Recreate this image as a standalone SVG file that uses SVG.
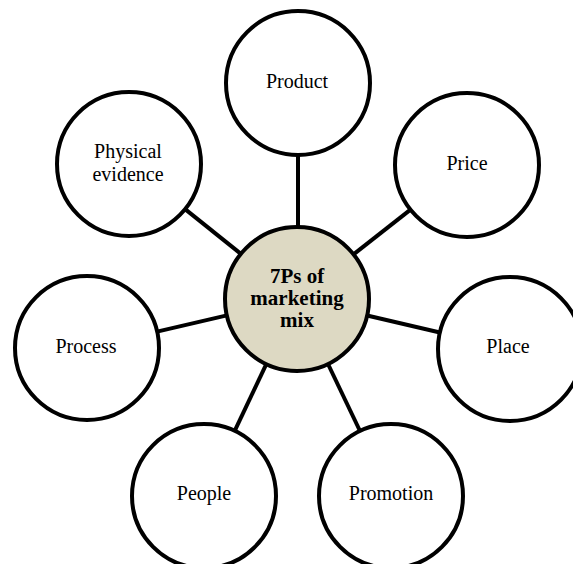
<svg xmlns="http://www.w3.org/2000/svg" width="573" height="564" viewBox="0 0 573 564">
<style>
.n{fill:#fff;stroke:#000;stroke-width:4}
.c{fill:#ddd9c3;stroke:#000;stroke-width:4}
.e{stroke:#000;stroke-width:4;fill:none}
text{font-family:"Liberation Serif","Times New Roman",serif;font-size:20px;fill:#000;text-anchor:middle}
.b{font-weight:bold;font-size:21px}
</style>
<rect width="573" height="564" fill="#fff"/>
<g id="connectors">
<line class="e" x1="298" y1="227" x2="298" y2="155"/>
<line class="e" x1="353.5" y1="254.4" x2="410.5" y2="209.6"/>
<line class="e" x1="367.1" y1="315.5" x2="439.9" y2="332.5"/>
<line class="e" x1="328" y1="364" x2="360" y2="431"/>
<line class="e" x1="266.3" y1="364.1" x2="234.7" y2="430.9"/>
<line class="e" x1="226.9" y1="315.4" x2="157.1" y2="331.6"/>
<line class="e" x1="240.9" y1="253.9" x2="185.1" y2="209.1"/>
</g>
<g id="center">
<circle class="c" cx="297" cy="299" r="72"/>
<text class="b" x="297" y="283">7Ps of</text>
<text class="b" x="297" y="305">marketing</text>
<text class="b" x="297" y="327">mix</text>
</g>
<g id="product">
<circle class="n" cx="298" cy="83" r="72"/>
<text x="297" y="88">Product</text>
</g>
<g id="price">
<circle class="n" cx="467" cy="165" r="72"/>
<text x="467" y="170">Price</text>
</g>
<g id="place">
<circle class="n" cx="510" cy="349" r="72"/>
<text x="508" y="353">Place</text>
</g>
<g id="promotion">
<circle class="n" cx="391" cy="496" r="72"/>
<text x="391" y="500">Promotion</text>
</g>
<g id="people">
<circle class="n" cx="204" cy="496" r="72"/>
<text x="204" y="500">People</text>
</g>
<g id="process">
<circle class="n" cx="87" cy="348" r="72"/>
<text x="86" y="353">Process</text>
</g>
<g id="physical-evidence">
<circle class="n" cx="129" cy="164" r="72"/>
<text x="128" y="158">Physical</text>
<text x="128" y="181">evidence</text>
</g>
</svg>
